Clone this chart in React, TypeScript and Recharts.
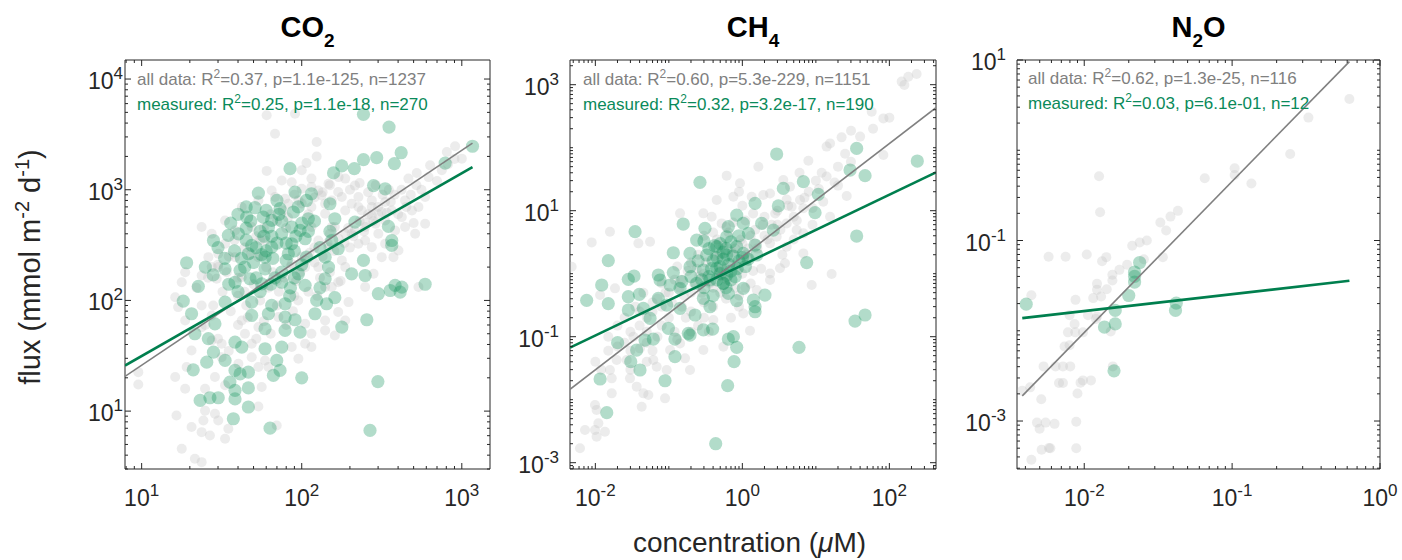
import React from 'react';
import { ScatterChart, Scatter, XAxis, YAxis, ReferenceArea } from 'recharts';

type Pt = [number, number];

// ---------------- CO2 ----------------
const co2All: Pt[] = [
  [60.4, 4700], [90.8, 4860], [68.1, 3210], [124, 2700], [107, 1740], [124, 2000], [60.4, 1480], [100, 1500],
  [75, 1210], [86.6, 1170], [115, 1260], [147, 1130], [187, 1260], [215, 1090], [64.9, 986], [78.7, 829],
  [100, 1020], [127, 986], [169, 953], [226, 859], [274, 801], [332, 774], [464, 1260], [523, 1415],
  [634, 1660], [908, 2470], [806, 2190], [1000, 1910], [590, 859], [442, 801], [226, 697], [187, 650],
  [274, 586], [140, 747], [115, 697], [38.3, 429], [33.2, 325], [30.1, 264], [26.1, 246], [27.4, 200],
  [23.7, 168], [18.7, 180], [17.8, 146], [29.4, 157], [154, 460], [205, 400], [249, 348], [332, 325],
  [301, 400], [147, 303], [178, 230], [127, 200], [187, 200], [316, 246], [374, 246], [281, 174],
  [169, 146], [140, 132], [536, 132], [105, 200], [86.6, 214], [53.6, 246],
  [16.2, 107], [9.53, 22.5], [9.53, 17.4], [16.2, 20.3], [18.7, 15.9], [20.5, 35.3], [19.1, 25], [24.9, 15.9],
  [28.7, 20.3], [33.2, 17.1], [56.2, 16.5], [16.5, 9.14], [24.3, 8.24], [28.7, 9.46], [23.7, 6.46], [26.7, 6.03],
  [33.2, 5.63], [34.8, 6.92], [17.8, 4.57], [21.5, 3.71], [23.7, 3.46], [53.6, 11], [69.8, 7.42], [105, 40.6],
  [115, 50], [140, 65.9], [169, 78.5], [196, 96.6], [154, 132], [249, 132], [187, 65.9], [161, 48.3],
  [44.2, 50], [48.7, 40.6], [59, 28.7], [31.6, 40.6], [27.4, 73.2], [23.7, 90.1], [86.6, 37.9], [53.6, 25],
  [95.3, 29.7], [44, 120], [70, 150], [100, 250], [120, 300], [60, 200], [40, 160], [90, 110], [130, 160],
  [200, 300], [250, 500], [300, 600], [55, 350], [35, 250], [80, 450], [150, 400], [110, 600], [70, 90],
  [400, 600], [350, 1000], [500, 500],
  [115, 1057], [133, 889], [154, 801], [178, 859], [205, 747], [237, 650], [274, 697], [316, 629], [365, 650],
  [422, 566], [488, 650], [536, 697], [140, 607], [161, 460], [187, 400], [215, 429], [249, 460], [289, 493],
  [332, 528], [383, 429], [442, 460], [511, 400], [590, 493], [226, 325], [274, 303], [402, 283], [127, 348],
  [115, 460], [95.3, 801], [82.5, 747],
  [16.9, 87], [18.7, 65.9], [23.7, 57.4], [27.4, 43.5], [31.6, 30.7], [40.2, 26.8], [48.7, 30.7], [61.9, 25],
  [42.2, 65.9], [53.6, 57.4], [71.5, 70.7], [105, 61.5], [140, 53.6], [115, 37.9], [24.9, 10.1], [30.1, 8.24],
  [20.5, 7.2], [23.7, 460], [27.4, 400], [33.2, 528], [42.2, 697], [53.6, 801], [68.1, 859], [38.3, 246],
  [30.1, 200], [42.2, 162], [59, 348], [48.7, 460],
  [25, 60], [28, 90], [32, 120], [36, 80], [40, 110], [45, 90], [50, 140], [55, 100], [62, 130], [66, 180],
  [72, 120], [78, 160], [85, 200], [92, 150], [98, 180], [105, 230], [112, 270], [120, 220], [135, 250],
  [145, 330], [160, 280], [170, 360], [185, 330], [195, 450], [210, 380], [230, 520], [245, 420], [260, 600],
  [280, 520], [300, 700], [320, 900], [340, 620], [360, 780], [380, 900], [420, 1000], [450, 700], [480, 900],
  [520, 1100], [560, 1000], [620, 1300], [700, 1200], [750, 1500], [820, 1700], [900, 1900], [30, 45],
  [35, 35], [40, 60], [46, 70], [52, 45], [58, 65], [64, 50], [80, 60], [88, 80], [95, 100], [110, 120],
  [125, 110], [150, 180], [175, 150], [22, 130], [26, 160], [30, 210], [34, 180], [38, 350], [44, 300],
  [48, 260], [52, 380], [58, 450], [64, 600], [70, 520], [76, 650], [82, 560], [90, 900], [100, 750],
  [120, 850], [135, 950], [150, 1100], [170, 1300], [200, 1000], [230, 1150], [260, 950], [290, 1100],
];
const co2Measured: Pt[] = [
  [243, 4800], [351, 3680], [418, 2160], [294, 1950], [243, 1870], [178, 1640], [213, 1550], [158, 1420],
  [84.5, 1550], [379, 1720], [787, 1740], [1166, 2470], [281, 1090], [332, 1020], [53.6, 933], [90.8, 953],
  [115, 920], [107, 800], [150, 747], [51.1, 688], [73.2, 674], [88.7, 629], [110, 547], [45.3, 566],
  [57.5, 566], [64.9, 528], [161, 547], [215, 510], [348, 466], [86.6, 460], [97.7, 429], [75, 400],
  [40.2, 400], [28.1, 348], [34.8, 387], [48.7, 314], [64.9, 303], [86.6, 325], [105, 361], [154, 348],
  [365, 348], [365, 314], [46.4, 264], [59, 246], [82.5, 264], [107, 246], [140, 246], [169, 293],
  [243, 230], [19.1, 219], [33.2, 193], [41.2, 187], [59, 193], [75, 180], [95.3, 174], [147, 200],
  [205, 174], [249, 168], [22.6, 134], [38.3, 146], [56.2, 141], [75, 146], [105, 137], [383, 137],
  [422, 132], [590, 140], [47.5, 157], [140, 157],
  [301, 115], [357, 123], [412, 119], [18.2, 98.6], [33.2, 96.6], [48.7, 96.6], [64.9, 90.1], [78.7, 93.3],
  [124, 100], [143, 93.3], [161, 106], [20.5, 75.8], [28.7, 61.5], [48.7, 73.2], [61.9, 75.8], [78.7, 70.7],
  [121, 75.8], [90.8, 66.9], [255, 66.9], [178, 57.4], [21.5, 50], [26.1, 45.1], [59, 55.5], [78.7, 53.6],
  [97.7, 51.8], [38.3, 42], [42.2, 37.9], [59, 36.6], [75, 37.9], [28.1, 34.1], [33.2, 28.7], [25.5, 27.7],
  [21, 23.6], [38.3, 23.3], [41.2, 21.7], [46.4, 22.5], [69.8, 28.7], [73.2, 23.3], [66.5, 21], [100, 20],
  [35.6, 18.3], [46.4, 16.2], [38.3, 15.4], [299, 18.5], [23.2, 12.5], [26.7, 13.2], [30.1, 13.2], [38.3, 12.9],
  [46.4, 10.9], [37.4, 8.53], [63.4, 7.02], [267, 6.69],
  [40, 600], [45, 450], [55, 420], [65, 380], [70, 330], [52, 300], [60, 280], [80, 230], [90, 280], [100, 210],
  [50, 220], [42, 240], [68, 160], [85, 130], [55, 120], [110, 420], [120, 520], [95, 700], [70, 800], [45, 700],
  [36, 500], [30, 300], [25, 200], [130, 300], [150, 420], [60, 650], [75, 520], [130, 130], [90, 160], [35, 140],
  [45, 350], [58, 380], [62, 460], [72, 600], [48, 520], [56, 260], [66, 240], [80, 330], [92, 380], [100, 500],
  [38, 280], [33, 240], [44, 200], [52, 160], [64, 140], [84, 110], [28, 170], [40, 120],
];
const co2FitAll: Pt[] = [[7.87, 20.6], [1166, 2640]];
const co2FitMeasured: Pt[] = [[7.87, 25.8], [1166, 1600]];
const co2XDomain = [7.87, 1500];
const co2YDomain = [3, 14860];
const co2XLabels = [10, 100, 1000];
const co2YLabels = [10, 100, 1000, 10000];

// ---------------- CH4 ----------------
const ch4All: Pt[] = [
  [235, 1480], [181, 1340], [147, 1120], [160, 988], [57.5, 372], [82.9, 292], [30.1, 186], [22.4, 146],
  [14, 104], [15.6, 117], [82.9, 76.6], [7.91, 62.2], [1.65, 49.9], [0.612, 36], [0.929, 27.2], [3.61, 30.7],
  [4.45, 24], [2.38, 18.8], [1.34, 16.7], [1.93, 17.7], [0.755, 16.7], [0.448, 14.8], [0.295, 9.07], [0.383, 8.04],
  [0.523, 6.29], [0.0158, 4.64], [0.0385, 3.03], [0.0555, 3.22], [0.00892, 3.14], [4.69, 11.6], [6.09, 14.8],
  [6.76, 10.9], [12.6, 13.9], [15.6, 8.04], [26.3, 17.1], [4.01, 6.29], [5.48, 4.93], [2.93, 3.86], [6.76, 4.37],
  [4.01, 2.68], [6.76, 2.1], [2.38, 3.03], [0.142, 9.07],
  [0.00476, 1.29], [0.0116, 0.458], [0.0185, 0.585], [0.0329, 0.1], [0.0405, 0.0653], [0.0615, 0.0427],
  [0.104, 0.0614], [0.166, 0.0453], [0.194, 0.0296], [0.0935, 0.0296], [0.0683, 0.0334], [0.0296, 0.0218],
  [0.0365, 0.0161], [0.045, 0.0126], [0.0526, 0.0119], [0.0427, 0.00774], [0.0167, 0.0218], [0.0167, 0.0126],
  [0.0099, 0.00822], [0.0104, 0.00685], [0.00723, 0.0033], [0.0099, 0.0033], [0.0135, 0.0031], [0.0104, 0.00259],
  [0.011, 0.00421], [0.00618, 0.00169], [0.0887, 0.0105], [1.27, 0.124], [1.03, 0.234], [2.38, 1.01],
  [3.25, 1.22], [16.4, 0.989], [8.77, 0.661], [3.8, 1.46], [0.403, 0.184], [0.551, 0.0693], [0.295, 0.0614],
  [0.142, 0.0783], [1.57, 0.551], [2.38, 0.794], [0.0267, 0.0427], [0.0158, 0.0296], [0.0195, 0.0427],
  [0.5, 2], [1, 3], [0.3, 1], [0.7, 1.5], [1.5, 5], [2, 8], [0.2, 0.5], [0.4, 0.3], [1, 1], [0.15, 0.3],
  [0.1, 0.2], [0.25, 0.15], [0.8, 0.6], [1.2, 2.5], [3, 6], [0.6, 0.4], [0.05, 0.2], [0.08, 0.15],
  [0.1, 0.5], [0.15, 0.8], [0.2, 0.25], [0.3, 0.2], [0.4, 0.6], [0.5, 0.9], [0.6, 1.2], [0.8, 2.5], [1.2, 1.8],
  [1.5, 3], [2, 4], [2.5, 6], [3, 10], [4, 15], [5, 8], [8, 20], [10, 30], [12, 40], [20, 50], [25, 80],
  [0.07, 0.1], [0.05, 0.08], [0.03, 0.06], [0.12, 0.12], [0.9, 0.3], [1.3, 0.7], [1.8, 1.2], [0.25, 2],
  [0.45, 3.5], [0.65, 4.5], [1.1, 7], [0.2, 1.5], [0.13, 1.3], [0.08, 0.7], [0.06, 0.35], [0.04, 0.25],
  [0.35, 0.12], [0.7, 0.2], [3.5, 2], [5, 3.5], [9, 6], [1, 12], [0.9, 20], [0.3, 4], [0.02, 0.15],
  [0.025, 0.08], [0.015, 0.06], [0.01, 0.04], [6, 40], [40, 150], [60, 200], [100, 300], [20, 25], [30, 60],
  [0.012, 0.03], [0.015, 0.1], [0.02, 0.07], [0.025, 0.2], [0.03, 0.12], [0.035, 0.3], [0.04, 0.15],
  [0.045, 0.5], [0.05, 0.12], [0.06, 0.25], [0.07, 0.4], [0.08, 0.3], [0.09, 0.5], [0.11, 0.35], [0.12, 0.8],
  [0.14, 0.6], [0.16, 0.45], [0.18, 1.1], [0.22, 0.7], [0.24, 1.2], [0.28, 0.5], [0.32, 1.5], [0.36, 0.7],
  [0.42, 1.9], [0.48, 1.1], [0.55, 2.8], [0.62, 0.8], [0.72, 2.2], [0.85, 1.3], [0.95, 3.5], [1.1, 2],
  [1.3, 4], [1.6, 2.5], [1.9, 6], [2.2, 3.5], [2.8, 9], [3.3, 5], [4.2, 12], [5.5, 7], [7, 16], [9, 11],
  [11, 22], [14, 35], [18, 28], [0.6, 5.5], [0.4, 4.5], [0.75, 6.5], [1.4, 9], [0.9, 0.45], [1.1, 0.6],
  [1.4, 1.1], [0.05, 0.04], [0.06, 0.06], [0.03, 0.03], [0.13, 0.09], [0.17, 0.2], [0.2, 0.12], [0.3, 0.35],
  [0.5, 0.5], [0.26, 0.9],
];
const ch4Measured: Pt[] = [
  [2.93, 79.3], [35.9, 97.5], [240, 61.4], [29.2, 44.2], [46.7, 36], [0.265, 28.2], [6.76, 28.9], [3.61, 22.6],
  [10.8, 18.2], [1.49, 13.1], [3.09, 11.9], [9.75, 9.29], [0.838, 8.53], [0.157, 6.14], [0.31, 5.25], [0.645, 5.57],
  [1.03, 6.29], [1.83, 6.29], [2.64, 4.93], [0.0347, 4.64], [35.9, 3.96], [0.239, 3.42], [0.612, 3.86], [1.21, 4.37],
  [0.448, 2.68], [0.838, 2.68], [1.49, 2.85], [0.115, 2.15], [0.194, 2.1], [0.327, 1.98], [0.612, 1.98], [1.03, 2.1],
  [1.57, 1.98], [0.015, 1.61], [7.5, 1.5],
  [0.0122, 0.661], [0.0336, 0.918], [0.0281, 0.813], [0.0719, 0.953], [0.115, 1.04], [0.0759, 0.794], [0.194, 1.29],
  [0.295, 1.14], [0.448, 1.22], [0.612, 0.953], [0.0281, 0.431], [0.0397, 0.47], [0.0719, 0.406], [0.104, 0.661],
  [0.142, 0.585], [0.239, 0.703], [0.363, 0.794], [0.551, 0.703], [0.00762, 0.378], [0.015, 0.334], [0.0281, 0.265],
  [0.045, 0.282], [0.0555, 0.195], [0.0935, 0.318], [0.142, 0.282], [0.227, 0.221], [0.295, 0.406], [0.363, 0.299],
  [0.645, 0.488], [0.838, 0.373], [1.03, 0.585], [1.41, 0.382], [2.03, 0.458], [1.49, 0.249], [1.49, 0.299],
  [0.0201, 0.0803], [0.0474, 0.0885], [0.0615, 0.0918], [0.121, 0.0918], [0.194, 0.106], [0.295, 0.128],
  [0.394, 0.132], [0.645, 0.0918], [0.755, 0.1], [0.838, 0.0678], [0.0365, 0.0614], [0.0303, 0.0401],
  [0.0405, 0.0296], [0.121, 0.0482], [0.0116, 0.0213], [0.0887, 0.02], [0.771, 0.0401], [0.631, 0.0167],
  [0.0143, 0.00622], [0.434, 0.002], [5.9, 0.0678], [34.1, 0.177], [46.7, 0.221], [0.0985, 0.136], [0.184, 0.113],
  [0.4, 1.6], [0.5, 1.3], [0.7, 1.1], [0.9, 1.6], [0.35, 0.9], [0.55, 2.2],
  [0.2, 0.9], [0.3, 0.6], [0.45, 0.8], [0.6, 0.6], [0.8, 0.9], [1.1, 1.3], [0.5, 3], [0.35, 2.5], [0.25, 1.6],
  [0.7, 3.2], [0.9, 4], [1.2, 1.7], [0.15, 0.75], [0.4, 0.45], [0.55, 1.7], [0.3, 3.3],
  [0.45, 1.8], [0.6, 2.5], [0.75, 1.9], [0.65, 1.4], [0.5, 1], [0.85, 1.2], [0.38, 1.2], [0.28, 0.8],
  [0.7, 0.8], [1, 1.8], [0.55, 0.7], [0.42, 2.8],
];
const ch4FitAll: Pt[] = [[0.00452, 0.0146], [431, 431]];
const ch4FitMeasured: Pt[] = [[0.00452, 0.0669], [431, 40.5]];
const ch4XDomain = [0.00452, 431];
const ch4YDomain = [0.000794, 2466];
const ch4XLabels = [0.01, 1, 100];
const ch4YLabels = [0.001, 0.1, 10, 1000];

// ---------------- N2O ----------------
const n2oAll: Pt[] = [
  [0.621, 3.7], [0.328, 2.3], [0.247, 0.91], [0.104, 0.632], [0.104, 0.533], [0.135, 0.428], [0.0653, 0.49],
  [0.0126, 0.515], [0.0128, 0.206], [0.043, 0.213], [0.0383, 0.184], [0.0327, 0.158], [0.0358, 0.129],
  [0.0265, 0.1], [0.0237, 0.095], [0.0211, 0.0873], [0.00574, 0.066], [0.00748, 0.066], [0.0104, 0.07],
  [0.0141, 0.0654], [0.0132, 0.059], [0.034, 0.0654], [0.0253, 0.062], [0.0195, 0.0538], [0.0173, 0.0473],
  [0.0155, 0.0417], [0.0155, 0.036], [0.0122, 0.0331], [0.0122, 0.0284], [0.0142, 0.0289], [0.00439, 0.0248],
  [0.00873, 0.022], [0.0115, 0.023], [0.013, 0.024], [0.00796, 0.0149], [0.0106, 0.0149], [0.0122, 0.0144],
  [0.0086, 0.0119], [0.0087, 0.0096], [0.00776, 0.0096], [0.0098, 0.0096], [0.0151, 0.0098], [0.012, 0.0135],
  [0.00736, 0.0067], [0.00796, 0.0069], [0.00531, 0.00403], [0.0064, 0.00403], [0.00718, 0.00403],
  [0.00804, 0.00403], [0.0156, 0.00403], [0.00675, 0.00264], [0.00718, 0.00264], [0.00944, 0.00266],
  [0.0098, 0.00282], [0.0111, 0.00282], [0.00381, 0.00217], [0.00431, 0.00236], [0.009, 0.00202],
  [0.00512, 0.00174], [0.00479, 0.00096], [0.00499, 0.00082], [0.00548, 0.00096], [0.0063, 0.00093],
  [0.00883, 0.00098], [0.00515, 0.00048], [0.00577, 0.000502], [0.0059, 0.0005], [0.00883, 0.0005],
  [0.00439, 0.000373],
];
const n2oMeasured: Pt[] = [
  [0.00405, 0.0197], [0.0237, 0.057], [0.0219, 0.0446], [0.0219, 0.0346], [0.02, 0.0246], [0.0162, 0.0168],
  [0.0137, 0.011], [0.0162, 0.0119], [0.0159, 0.0036], [0.0419, 0.0202], [0.0414, 0.0168], [0.0219, 0.04],
];
const n2oFitAll: Pt[] = [[0.00381, 0.0019], [0.621, 9.6]];
const n2oFitMeasured: Pt[] = [[0.00381, 0.0138], [0.621, 0.0358]];
const n2oXDomain = [0.00351, 1];
const n2oYDomain = [0.000294, 10];
const n2oXLabels = [0.01, 0.1, 1];
const n2oYLabels = [0.001, 0.1, 10];

// ---------------- texts ----------------
const statsAll = ['=0.37, p=1.1e-125, n=1237', '=0.60, p=5.3e-229, n=1151', '=0.62, p=1.3e-25, n=116'];
const statsMeasured = ['=0.25, p=1.1e-18, n=270', '=0.32, p=3.2e-17, n=190', '=0.03, p=6.1e-01, n=12'];

// ---------------- style ----------------
const FONT = '"Liberation Sans", Arial, Helvetica, sans-serif';
const AXIS = '#262626';
const GRAY_TEXT = '#808080';
const GREEN_TEXT = '#0a8a5a';
const GREEN_LINE = '#007f4e';
const MULTS = [1, 2, 3, 4, 5, 6, 7, 8, 9];

const PLOT_TOP = 60;
const PLOT_BOTTOM = 469;
const Y_AXIS_W = 100;
const TICK_FS = 23;
const SUP_FS = 17;

function logTicks(dom: number[]) {
  const out: number[] = [];
  const e0 = Math.floor(Math.log10(dom[0]));
  const e1 = Math.ceil(Math.log10(dom[1]));
  for (let e = e0; e <= e1; e++) {
    for (const m of MULTS) {
      const v = Number(`${m}e${e}`);
      if (v >= dom[0] && v <= dom[1]) out.push(v);
    }
  }
  return out;
}

const toPts = (arr: Pt[]) => arr.map(([x, y]) => ({ x, y }));

const GrayDot = (p: any) => <circle cx={p.cx} cy={p.cy} r={5} fill="#c0c0c0" fillOpacity={0.3} />;
const GreenDot = (p: any) => <circle cx={p.cx} cy={p.cy} r={6.6} fill="#14965f" fillOpacity={0.33} />;
const NoDot = () => <g />;

function XTick(props: any) {
  const { x, payload, labels } = props;
  const v = payload.value;
  const isMajor = labels.includes(v);
  const len = isMajor ? 6 : 3;
  const exp = Math.round(Math.log10(v));
  return (
    <g>
      <line x1={x} x2={x} y1={PLOT_BOTTOM} y2={PLOT_BOTTOM - len} stroke={AXIS} strokeWidth={1} />
      <line x1={x} x2={x} y1={PLOT_TOP} y2={PLOT_TOP + len} stroke={AXIS} strokeWidth={1} />
      {isMajor && (
        <text x={x} y={PLOT_BOTTOM + 37} textAnchor="middle" fontSize={TICK_FS} fill={AXIS} fontFamily={FONT}>
          10<tspan dy={-10} fontSize={SUP_FS}>{String(exp)}</tspan>
        </text>
      )}
    </g>
  );
}

function YTick(props: any) {
  const { y, payload, labels, plotW, gap } = props;
  const v = payload.value;
  const isMajor = labels.includes(v);
  const len = isMajor ? 6 : 3;
  const exp = Math.round(Math.log10(v));
  const left = Y_AXIS_W;
  const right = Y_AXIS_W + plotW;
  return (
    <g>
      <line x1={left} x2={left + len} y1={y} y2={y} stroke={AXIS} strokeWidth={1} />
      <line x1={right} x2={right - len} y1={y} y2={y} stroke={AXIS} strokeWidth={1} />
      {isMajor && (
        <text x={left - gap} y={y + 10} textAnchor="end" fontSize={TICK_FS} fill={AXIS} fontFamily={FONT}>
          10<tspan dy={-10} fontSize={SUP_FS}>{String(exp)}</tspan>
        </text>
      )}
    </g>
  );
}

type PanelCfg = {
  plotLeft: number;
  plotW: number;
  padRight: number;
  gap: number;
  xDomain: number[];
  yDomain: number[];
  xLabels: number[];
  yLabels: number[];
  all: Pt[];
  measured: Pt[];
  fitAll: Pt[];
  fitMeasured: Pt[];
};

function Panel({ cfg }: { cfg: PanelCfg }) {
  const W = Y_AXIS_W + cfg.plotW + cfg.padRight;
  return (
    <div style={{ position: 'absolute', left: cfg.plotLeft - Y_AXIS_W, top: 0 }}>
      <ScatterChart width={W} height={560} margin={{ top: PLOT_TOP, right: cfg.padRight, bottom: 0, left: 0 }}>
        <XAxis
          type="number"
          dataKey="x"
          scale="log"
          domain={cfg.xDomain}
          allowDataOverflow
          ticks={logTicks(cfg.xDomain)}
          interval={0}
          tick={(p: any) => <XTick {...p} labels={cfg.xLabels} />}
          tickLine={false}
          axisLine={false}
          height={560 - PLOT_BOTTOM}
        />
        <YAxis
          type="number"
          dataKey="y"
          scale="log"
          domain={cfg.yDomain}
          allowDataOverflow
          ticks={logTicks(cfg.yDomain)}
          interval={0}
          tick={(p: any) => <YTick {...p} labels={cfg.yLabels} plotW={cfg.plotW} gap={cfg.gap} />}
          tickLine={false}
          axisLine={false}
          width={Y_AXIS_W}
        />
        <Scatter data={toPts(cfg.all)} shape={GrayDot} isAnimationActive={false} />
        <Scatter data={toPts(cfg.measured)} shape={GreenDot} isAnimationActive={false} />
        <Scatter
          data={toPts(cfg.fitAll)}
          line={{ stroke: '#808080', strokeWidth: 1.6 }}
          lineType="joint"
          shape={NoDot}
          isAnimationActive={false}
        />
        <Scatter
          data={toPts(cfg.fitMeasured)}
          line={{ stroke: GREEN_LINE, strokeWidth: 2.6 }}
          lineType="joint"
          shape={NoDot}
          isAnimationActive={false}
        />
        <ReferenceArea
          x1={cfg.xDomain[0]}
          x2={cfg.xDomain[1]}
          y1={cfg.yDomain[0]}
          y2={cfg.yDomain[1]}
          fill="none"
          fillOpacity={0}
          stroke={AXIS}
          strokeWidth={1}
          ifOverflow="visible"
        />
      </ScatterChart>
    </div>
  );
}

const panels: PanelCfg[] = [
  {
    plotLeft: 125, plotW: 365, padRight: 5, gap: 2,
    xDomain: co2XDomain, yDomain: co2YDomain, xLabels: co2XLabels, yLabels: co2YLabels,
    all: co2All, measured: co2Measured, fitAll: co2FitAll, fitMeasured: co2FitMeasured,
  },
  {
    plotLeft: 570, plotW: 366, padRight: 5, gap: 11,
    xDomain: ch4XDomain, yDomain: ch4YDomain, xLabels: ch4XLabels, yLabels: ch4YLabels,
    all: ch4All, measured: ch4Measured, fitAll: ch4FitAll, fitMeasured: ch4FitMeasured,
  },
  {
    plotLeft: 1017, plotW: 363, padRight: 20, gap: 11,
    xDomain: n2oXDomain, yDomain: n2oYDomain, xLabels: n2oXLabels, yLabels: n2oYLabels,
    all: n2oAll, measured: n2oMeasured, fitAll: n2oFitAll, fitMeasured: n2oFitMeasured,
  },
];

function Stats({ x, y, color, prefix, rest }: { x: number; y: number; color: string; prefix: string; rest: string }) {
  return (
    <text x={x} y={y} fontSize={17} fill={color} fontFamily={FONT}>
      {prefix}R<tspan dy={-7} fontSize={12}>2</tspan>
      <tspan dy={7}>{rest}</tspan>
    </text>
  );
}

export default function App() {
  return (
    <div style={{ position: 'absolute', left: 0, top: 0, width: 1402, height: 560, background: '#ffffff', fontFamily: FONT }}>
      {panels.map((cfg, i) => (
        <Panel key={i} cfg={cfg} />
      ))}
      <svg width={1402} height={560} style={{ position: 'absolute', left: 0, top: 0, pointerEvents: 'none' }}>
        <text x={307.5} y={37} textAnchor="middle" fontSize={29} fontWeight="bold" fill="#000" fontFamily={FONT}>
          CO<tspan dy={10} fontSize={19}>2</tspan>
        </text>
        <text x={753} y={37} textAnchor="middle" fontSize={29} fontWeight="bold" fill="#000" fontFamily={FONT}>
          CH<tspan dy={10} fontSize={19}>4</tspan>
        </text>
        <text x={1198.5} y={37} textAnchor="middle" fontSize={29} fontWeight="bold" fill="#000" fontFamily={FONT}>
          N<tspan dy={10} fontSize={19}>2</tspan>
          <tspan dy={-10} fontSize={29}>O</tspan>
        </text>
        <Stats x={137} y={85} color={GRAY_TEXT} prefix="all data: " rest={statsAll[0]} />
        <Stats x={137} y={110} color={GREEN_TEXT} prefix="measured: " rest={statsMeasured[0]} />
        <Stats x={583} y={85} color={GRAY_TEXT} prefix="all data: " rest={statsAll[1]} />
        <Stats x={583} y={110} color={GREEN_TEXT} prefix="measured: " rest={statsMeasured[1]} />
        <Stats x={1028} y={84} color={GRAY_TEXT} prefix="all data: " rest={statsAll[2]} />
        <Stats x={1028} y={109} color={GREEN_TEXT} prefix="measured: " rest={statsMeasured[2]} />
        <text
          x={40}
          y={267}
          transform="rotate(-90 40 267)"
          textAnchor="middle"
          fontSize={29}
          fill={AXIS}
          fontFamily={FONT}
        >
          flux (mmol m<tspan dy={-11} fontSize={20}>-2</tspan>
          <tspan dy={11}> d</tspan>
          <tspan dy={-11} fontSize={20}>-1</tspan>
          <tspan dy={11}>)</tspan>
        </text>
        <text x={749.5} y={552} textAnchor="middle" fontSize={28} fill={AXIS} fontFamily={FONT}>
          concentration (<tspan fontStyle="italic">μ</tspan>M)
        </text>
      </svg>
    </div>
  );
}
